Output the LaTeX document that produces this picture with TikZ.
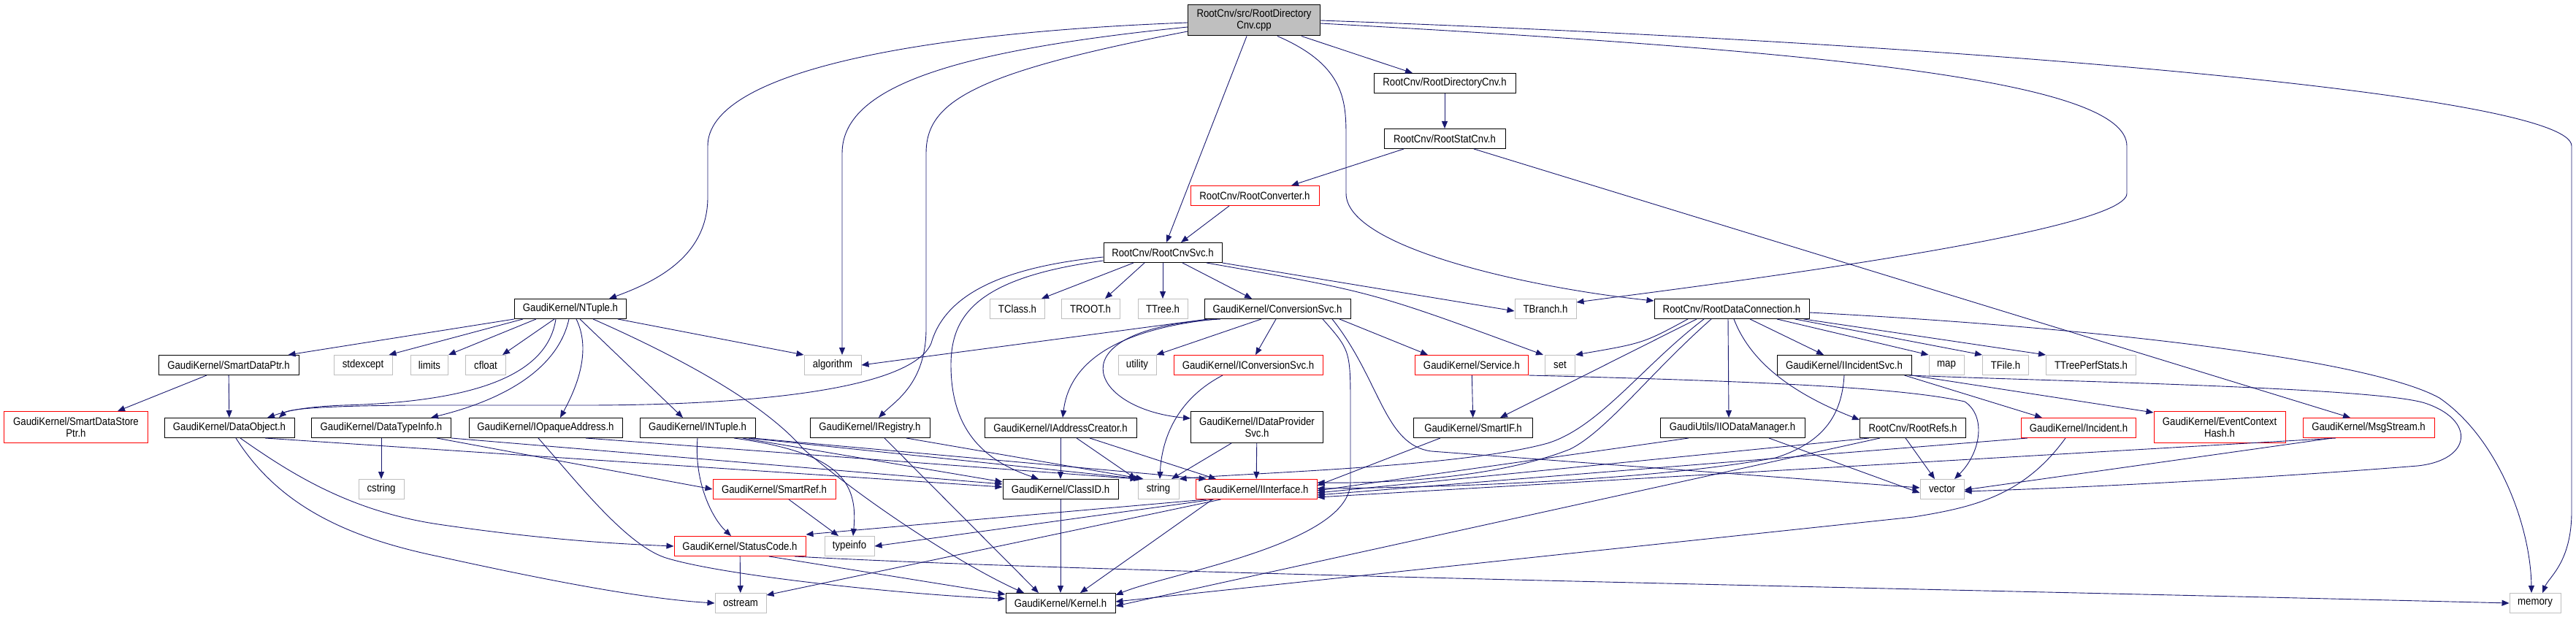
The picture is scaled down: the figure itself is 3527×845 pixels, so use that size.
\documentclass[tikz,border=0pt]{standalone}
\usepackage{fontspec}
\newfontfamily\dxfont{Liberation Sans}[FakeStretch=0.88]
\usetikzlibrary{arrows.meta}
\definecolor{edgeblue}{HTML}{191970}
\definecolor{boxgray}{HTML}{BFBFBF}
\tikzset{
  hdr/.style={draw=black, line width=1pt, minimum height=27pt, inner xsep=2pt, inner ysep=1pt, align=center, font=\dxfont\fontsize{15}{16}\selectfont},
  hdrred/.style={hdr, draw=red},
  sys/.style={hdr, draw=boxgray},
  cpp/.style={hdr, fill=boxgray},
  inc/.style={draw=edgeblue, line width=0.9pt, -{Triangle[length=10pt,width=8pt]}}
}
\begin{document}
\begin{tikzpicture}[x=1pt,y=-1pt]
\useasboundingbox (0,0) rectangle (3527,845);

\node[cpp, minimum width=181, minimum height=42] (rootcpp) at (1717,28) {RootCnv/src/RootDirectory\\Cnv.cpp};
\node[hdr, minimum width=194] (rdircnv) at (1978,114) {RootCnv/RootDirectoryCnv.h};
\node[hdr, minimum width=166] (rstatcnv) at (1978,190) {RootCnv/RootStatCnv.h};
\node[hdrred, minimum width=176] (rconv) at (1718,268) {RootCnv/RootConverter.h};
\node[hdr, minimum width=162] (rcnvsvc) at (1592,346) {RootCnv/RootCnvSvc.h};

\node[hdr, minimum width=153] (ntuple) at (781,423) {GaudiKernel/NTuple.h};
\node[sys, minimum width=75] (tclass) at (1393,423) {TClass.h};
\node[sys, minimum width=80] (troot) at (1493,423) {TROOT.h};
\node[sys, minimum width=68] (ttree) at (1592,423) {TTree.h};
\node[hdr, minimum width=200] (convsvc) at (1749,423) {GaudiKernel/ConversionSvc.h};
\node[sys, minimum width=84] (tbranch) at (2116,423) {TBranch.h};
\node[hdr, minimum width=212] (rdataconn) at (2371,423) {RootCnv/RootDataConnection.h};

\node[hdr, minimum width=192] (sdptr) at (313,500) {GaudiKernel/SmartDataPtr.h};
\node[sys, minimum width=80] (stdexcept) at (497,500) {stdexcept};
\node[sys, minimum width=51] (stdlimits) at (588,500) {limits};
\node[sys, minimum width=55] (stdcfloat) at (665,500) {cfloat};
\node[sys, minimum width=78] (stdalgo) at (1140,500) {algorithm};
\node[sys, minimum width=52] (stdutility) at (1557,500) {utility};
\node[hdrred, minimum width=204] (iconvsvc) at (1709,500) {GaudiKernel/IConversionSvc.h};
\node[hdrred, minimum width=155] (service) at (2015,500) {GaudiKernel/Service.h};
\node[sys, minimum width=41] (stdset) at (2136,500) {set};
\node[hdr, minimum width=184] (iincsvc) at (2525,500) {GaudiKernel/IIncidentSvc.h};
\node[sys, minimum width=48] (stdmap) at (2665,500) {map};
\node[sys, minimum width=63] (tfile) at (2746,500) {TFile.h};
\node[sys, minimum width=123] (tperf) at (2863,500) {TTreePerfStats.h};

\node[hdrred, minimum width=197, minimum height=43] (sdsptr) at (104,585) {GaudiKernel/SmartDataStore\\Ptr.h};
\node[hdr, minimum width=178] (dobj) at (314,586) {GaudiKernel/DataObject.h};
\node[hdr, minimum width=191] (dtinfo) at (522,586) {GaudiKernel/DataTypeInfo.h};
\node[hdr, minimum width=210] (iopaddr) at (747,586) {GaudiKernel/IOpaqueAddress.h};
\node[hdr, minimum width=158] (intuple) at (955,586) {GaudiKernel/INTuple.h};
\node[hdr, minimum width=164] (iregistry) at (1191,586) {GaudiKernel/IRegistry.h};
\node[hdr, minimum width=208] (iaddrcr) at (1452,586) {GaudiKernel/IAddressCreator.h};
\node[hdr, minimum width=181, minimum height=43] (idpsvc) at (1721,585) {GaudiKernel/IDataProvider\\Svc.h};
\node[hdr, minimum width=163] (smartif) at (2017,586) {GaudiKernel/SmartIF.h};
\node[hdr, minimum width=198] (iodmgr) at (2372,586) {GaudiUtils/IIODataManager.h};
\node[hdr, minimum width=145] (rootrefs) at (2619,586) {RootCnv/RootRefs.h};
\node[hdrred, minimum width=157] (incident) at (2846,586) {GaudiKernel/Incident.h};
\node[hdrred, minimum width=180, minimum height=43] (evctxhash) at (3039,585) {GaudiKernel/EventContext\\Hash.h};
\node[hdrred, minimum width=180] (msgstream) at (3243,586) {GaudiKernel/MsgStream.h};

\node[sys, minimum width=62] (stdcstring) at (522,670) {cstring};
\node[hdrred, minimum width=168] (smartref) at (1060,670) {GaudiKernel/SmartRef.h};
\node[hdr, minimum width=158] (classid) at (1452,670) {GaudiKernel/ClassID.h};
\node[sys, minimum width=56] (stdstring) at (1586,670) {string};
\node[hdrred, minimum width=166] (iiface) at (1720,670) {GaudiKernel/IInterface.h};
\node[sys, minimum width=60] (stdvector) at (2659,670) {vector};
\node[hdrred, minimum width=180] (statuscode) at (1013,748) {GaudiKernel/StatusCode.h};
\node[sys, minimum width=68] (stdtypeinfo) at (1163,748) {typeinfo};
\node[sys, minimum width=70] (stdostream) at (1014,826) {ostream};
\node[hdr, minimum width=150] (kernel) at (1452,826) {GaudiKernel/Kernel.h};
\node[sys, minimum width=70] (stdmemory) at (3471,826) {memory};

\draw[inc] ([yshift=-3]rootcpp.west) .. controls (1250,45) and (969,100) .. (969,200) -- (969,270) .. controls (969,350) and (900,385) .. ([xshift=53]ntuple.north);
\draw[inc] ([yshift=-9]rootcpp.west) .. controls (1300,70) and (1153,120) .. (1153,210) -- ([xshift=13]stdalgo.north);
\draw[inc] ([yshift=-15]rootcpp.west) .. controls (1330,100) and (1268,140) .. (1268,210) -- (1268,450) .. controls (1268,525) and (1225,550) .. ([xshift=12]iregistry.north);
\draw[inc] ([xshift=-10]rootcpp.south) -- ([xshift=5]rcnvsvc.north);
\draw[inc] ([xshift=32]rootcpp.south) .. controls (1843,90) and (1843,140) .. (1843,190) -- (1843,265) .. controls (1843,340) and (2100,395) .. ([yshift=-3]rdataconn.north west);
\draw[inc] ([xshift=65]rootcpp.south) -- ([xshift=-44]rdircnv.north);
\draw[inc] ([yshift=-4]rootcpp.east) .. controls (2500,70) and (2912,110) .. (2912,200) -- (2912,265) .. controls (2912,320) and (2300,395) .. ([yshift=-5]tbranch.north east);
\draw[inc] (rootcpp.east) .. controls (2700,60) and (3521,130) .. (3521,200) -- (3521,700) .. controls (3521,770) and (3490,790) .. ([xshift=10]stdmemory.north);

\draw[inc] (rdircnv) -- (rstatcnv);
\draw[inc] ([xshift=-56]rstatcnv.south) -- ([xshift=50]rconv.north);
\draw[inc] ([xshift=40]rstatcnv.south) -- ([xshift=-25]msgstream.north);
\draw[inc] ([xshift=-35]rconv.south) -- ([xshift=25]rcnvsvc.north);

\draw[inc] ([xshift=-40]rcnvsvc.south) -- ([xshift=-5]tclass.north east);
\draw[inc] ([xshift=-25]rcnvsvc.south) -- ([xshift=20]troot.north);
\draw[inc] (rcnvsvc) -- (ttree);
\draw[inc] ([xshift=27]rcnvsvc.south) -- ([xshift=-35]convsvc.north);
\draw[inc] ([xshift=60]rcnvsvc.south) .. controls (1880,400) .. ([xshift=-2]stdset.north west);
\draw[inc] (rcnvsvc.south east) -- ([yshift=-3]tbranch.west);
\draw[inc] ([yshift=-6]rcnvsvc.west) .. controls (1380,365) and (1295,400) .. (1275,470) .. controls (1250,530) and (1050,555) .. (800,555) -- (560,555) .. controls (440,556) and (395,560) .. ([xshift=68]dobj.north);
\draw[inc] ([yshift=-11]rcnvsvc.west) .. controls (1340,380) and (1302,430) .. (1302,500) .. controls (1302,600) and (1360,635) .. ([xshift=-30]classid.north);

\draw[inc] (ntuple.south west) -- ([xshift=-15]sdptr.north east);
\draw[inc] ([xshift=12]ntuple.south west) -- ([xshift=-5]stdexcept.north east);
\draw[inc] ([xshift=30]ntuple.south west) -- (stdlimits.north east);
\draw[inc] ([xshift=55]ntuple.south west) -- ([xshift=-5]stdcfloat.north east);
\draw[inc] ([xshift=-20]ntuple.south) .. controls (750,510) and (660,550) .. (470,555) .. controls (420,557) and (395,562) .. ([xshift=52]dobj.north);
\draw[inc] ([xshift=-2]ntuple.south) .. controls (765,500) and (700,545) .. ([xshift=-28]dtinfo.north east);
\draw[inc] ([xshift=8]ntuple.south) .. controls (810,480) and (790,530) .. ([xshift=20]iopaddr.north);
\draw[inc] ([xshift=13]ntuple.south) -- ([xshift=-20]intuple.north);
\draw[inc] ([xshift=65]ntuple.south) -- (stdalgo.north west);
\draw[inc] ([xshift=31]ntuple.south) .. controls (1000,520) and (1070,580) .. (1100,615) .. controls (1200,700) and (1330,780) .. ([xshift=-50]kernel.north);

\draw[inc] ([xshift=-30]sdptr.south) -- ([xshift=57]sdsptr.north);
\draw[inc] (sdptr) -- (dobj);

\draw[inc] ([xshift=49]dobj.south) -- ([yshift=3]classid.west);
\draw[inc] ([xshift=15]dobj.south) .. controls (400,650) and (480,700) .. (600,718) .. controls (750,740) and (850,745) .. (statuscode.west);
\draw[inc] ([xshift=9]dobj.south) .. controls (380,690) and (470,735) .. (600,762) .. controls (750,795) and (880,820) .. (stdostream.west);

\draw[inc] (dtinfo) -- (stdcstring);
\draw[inc] ([xshift=-20]dtinfo.south east) -- (smartref.west);
\draw[inc] (dtinfo.south east) -- ([yshift=7]classid.west);

\draw[inc] ([xshift=-10]iopaddr.south) .. controls (790,660) and (860,750) .. (915,765) .. controls (1000,790) and (1250,815) .. ([yshift=6]kernel.west);
\draw[inc] ([xshift=55]iopaddr.south) -- (stdstring.north west);

\draw[inc] (intuple.south) .. controls (950,660) and (975,710) .. ([xshift=-12]statuscode.north);
\draw[inc] ([xshift=50]intuple.south) .. controls (1150,620) and (1175,660) .. ([xshift=5]stdtypeinfo.north);
\draw[inc] ([xshift=62]intuple.south) -- ([yshift=10]classid.west);
\draw[inc] ([xshift=70]intuple.south) -- ([xshift=5]stdstring.north west);
\draw[inc] ([xshift=75]intuple.south) -- ([xshift=15]iiface.north west);

\draw[inc] ([xshift=50]iregistry.south) -- ([xshift=8]stdstring.north west);
\draw[inc] ([xshift=20]iregistry.south) -- ([xshift=-30]kernel.north);

\draw[inc] (iaddrcr) -- (classid);
\draw[inc] ([xshift=22]iaddrcr.south) -- ([xshift=-2]stdstring.north west);
\draw[inc] ([xshift=40]iaddrcr.south) -- ([xshift=-55]iiface.north);

\draw[inc] ([xshift=-35]idpsvc.south) -- ([xshift=18]stdstring.north);
\draw[inc] (idpsvc) -- (iiface);
\draw[inc] ([xshift=-35]iconvsvc.south) .. controls (1605,550) and (1590,610) .. ([xshift=2]stdstring.north);

\draw[inc] ([xshift=-95]convsvc.south) -- (stdalgo.east);
\draw[inc] ([xshift=-22]convsvc.south) -- (stdutility.north east);
\draw[inc] ([xshift=-2]convsvc.south) -- ([xshift=10]iconvsvc.north);
\draw[inc] ([xshift=-85]convsvc.south) .. controls (1540,450) and (1465,490) .. ([xshift=3]iaddrcr.north);
\draw[inc] ([xshift=-78]convsvc.south) .. controls (1440,450) and (1490,560) .. ([yshift=12]idpsvc.west);
\draw[inc] ([xshift=62]convsvc.south) .. controls (1849,480) .. (1849,560) -- (1849,660) .. controls (1849,745) and (1600,785) .. ([yshift=-3]kernel.north east);
\draw[inc] ([xshift=75]convsvc.south) .. controls (1890,520) and (1895,610) .. (1960,618) -- ([yshift=2]stdvector.west);
\draw[inc] ([xshift=85]convsvc.south) -- ([xshift=-60]service.north);

\draw[inc] (service) -- (smartif);
\draw[inc] (service.south east) .. controls (2400,522) and (2600,530) .. (2690,550) .. controls (2720,570) and (2712,620) .. ([xshift=17]stdvector.north);
\draw[inc] ([xshift=-45]smartif.south) -- ([yshift=5]iiface.east);

\draw[inc] ([xshift=-60]rdataconn.south) .. controls (2250,470) .. (stdset.north east);
\draw[inc] ([xshift=-48]rdataconn.south) -- ([xshift=37]smartif.north);
\draw[inc] ([xshift=-38]rdataconn.south) .. controls (2250,500) and (2190,585) .. (2119,607) .. controls (2000,640) and (1700,648) .. (stdstring.north east);
\draw[inc] ([xshift=-28]rdataconn.south) .. controls (2260,510) and (2200,590) .. (2150,615) .. controls (2050,655) and (1900,662) .. ([yshift=9]iiface.east);
\draw[inc] ([xshift=-5]rdataconn.south) -- ([xshift=-5]iodmgr.north);
\draw[inc] ([xshift=3]rdataconn.south) .. controls (2400,505) and (2470,545) .. ([yshift=-3]rootrefs.north west);
\draw[inc] ([xshift=25]rdataconn.south) -- ([xshift=-28]iincsvc.north);
\draw[inc] ([xshift=62]rdataconn.south) -- (stdmap.north west);
\draw[inc] ([xshift=-20]rdataconn.south east) -- (tfile.north west);
\draw[inc] ([xshift=-8]rdataconn.south east) -- (tperf.north west);
\draw[inc] ([yshift=-5]rdataconn.east) .. controls (2900,450) and (3250,495) .. (3340,545) .. controls (3420,600) and (3465,720) .. ([xshift=-5]stdmemory.north);

\draw[inc] ([xshift=-10]iincsvc.south east) -- ([xshift=-50]incident.north);
\draw[inc] (iincsvc.south east) -- ([yshift=-2]evctxhash.north west);
\draw[inc] (iincsvc.south) .. controls (2522,565) and (2500,605) .. (2431,627) .. controls (2250,660) and (1950,668) .. ([yshift=1]iiface.east);
\draw[inc] ([xshift=-4]iincsvc.south east) .. controls (2800,522) and (3250,530) .. (3320,552) .. controls (3390,575) and (3385,630) .. (3310,638) .. controls (3100,655) and (2850,668) .. ([yshift=-3]stdvector.east);

\draw[inc] ([xshift=-10]rootrefs.south) -- ([xshift=-10]stdvector.north);
\draw[inc] ([xshift=-60]rootrefs.south) -- ([yshift=-5]iiface.east);
\draw[inc] ([xshift=-45]rootrefs.south) -- ([yshift=-4]kernel.east);
\draw[inc] ([xshift=-60]iodmgr.south) -- ([yshift=-2]iiface.east);
\draw[inc] ([xshift=50]iodmgr.south) -- ([yshift=-5]stdvector.west);
\draw[inc] ([xshift=-70]incident.south) -- ([yshift=-8]iiface.east);
\draw[inc] ([xshift=-18]incident.south) .. controls (2770,680) and (2700,695) .. (2620,708) -- ([yshift=2]kernel.east);
\draw[inc] ([xshift=-45]msgstream.south) -- ([yshift=-11]iiface.east);
\draw[inc] ([xshift=-50]msgstream.south) -- ([yshift=-1]stdvector.east);

\draw[inc] ([xshift=20]smartref.south) -- ([xshift=-15]stdtypeinfo.north);
\draw[inc] (classid) -- (kernel);
\draw[inc] ([xshift=-60]iiface.south) -- ([xshift=27]kernel.north);
\draw[inc] ([xshift=15]iiface.south west) -- ([yshift=2]statuscode.north east);
\draw[inc] ([xshift=25]iiface.south west) -- (stdtypeinfo.east);
\draw[inc] ([xshift=35]iiface.south west) -- ([yshift=-3]stdostream.north east);
\draw[inc] (statuscode) -- (stdostream);
\draw[inc] ([xshift=40]statuscode.south) -- ([yshift=12]kernel.west);
\draw[inc] ([xshift=75]statuscode.south) .. controls (1500,785) and (2600,805) .. (stdmemory.west);
\end{tikzpicture}
\end{document}
